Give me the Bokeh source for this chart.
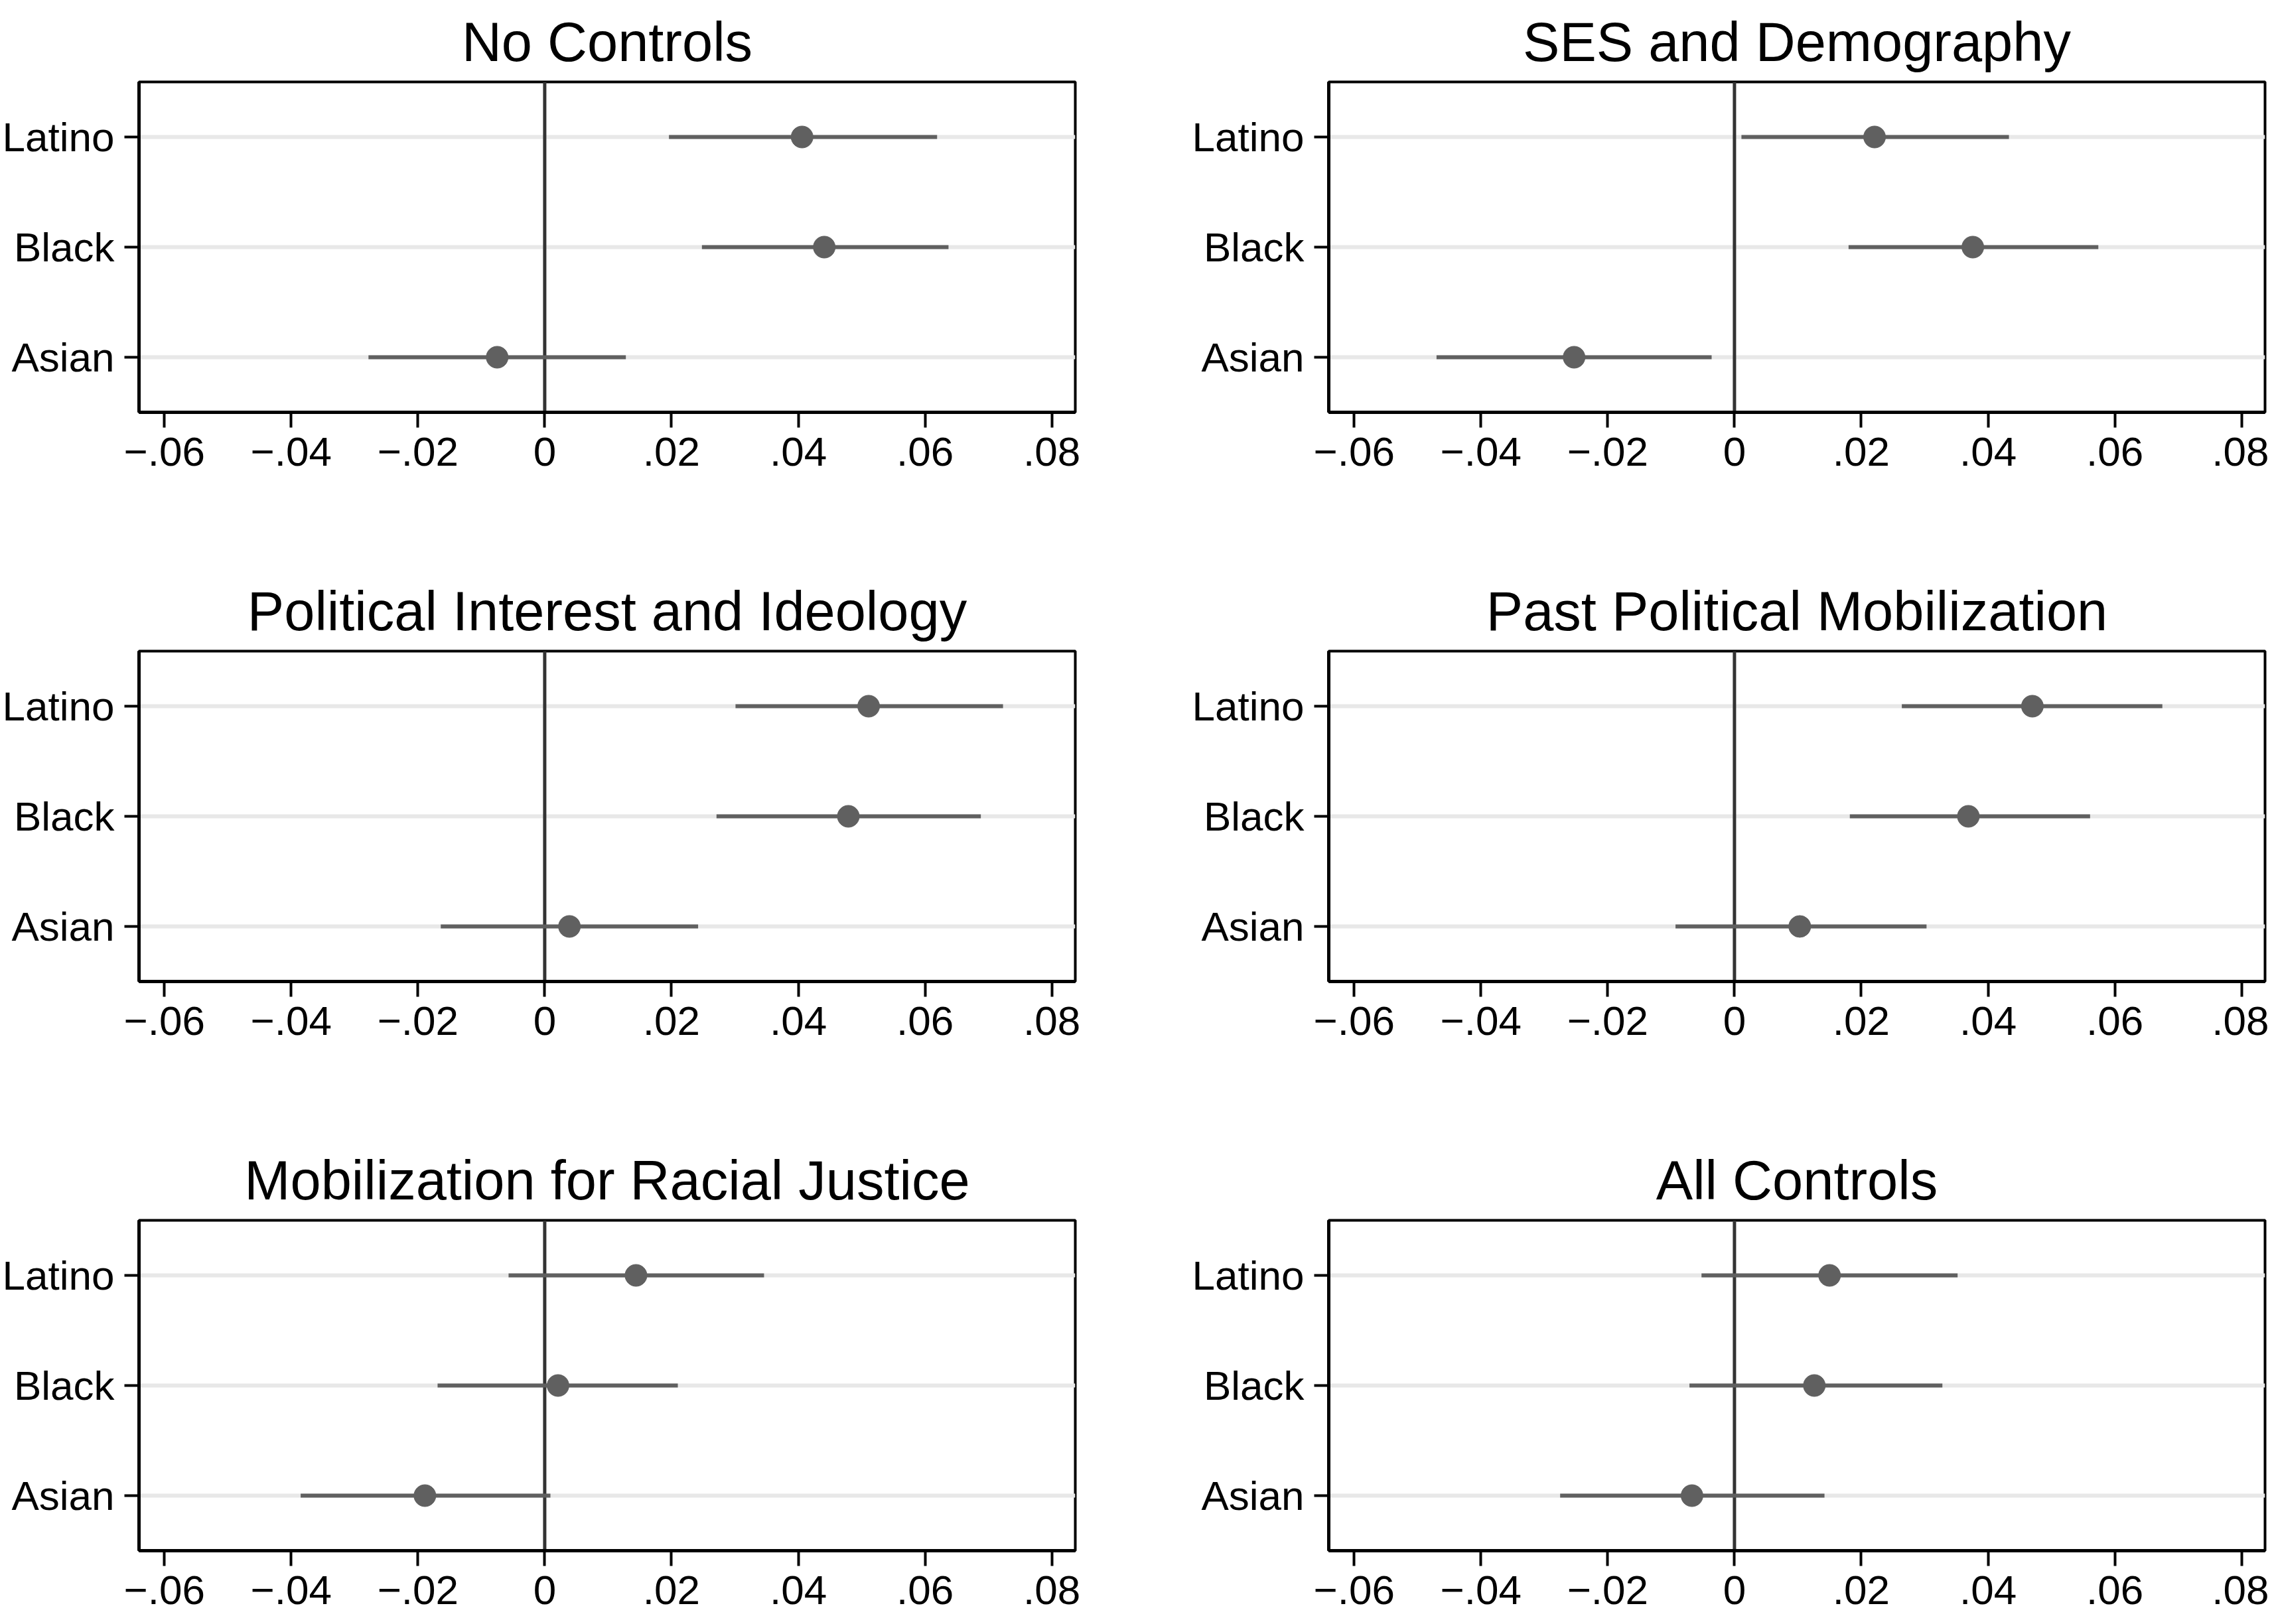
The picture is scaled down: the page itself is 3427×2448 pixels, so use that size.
from bokeh.plotting import figure
from bokeh.models import FactorRange, Range1d, FixedTicker, Span
from bokeh.layouts import gridplot
from bokeh.embed import file_html
from bokeh.resources import INLINE

# ---------------- data ----------------
groups = ["Latino", "Black", "Asian"]
group_order = ["Asian", "Black", "Latino"]  # bottom -> top

panel_titles = [
    "No Controls",
    "SES and Demography",
    "Political Interest and Ideology",
    "Past Political Mobilization",
    "Mobilization for Racial Justice",
    "All Controls",
]

# point estimates, lower and upper CI bounds (order: Latino, Black, Asian)
no_controls_est = [0.0406, 0.0441, -0.0075]
no_controls_lo = [0.0196, 0.0248, -0.0278]
no_controls_hi = [0.0619, 0.0637, 0.0128]

ses_est = [0.0221, 0.0376, -0.0253]
ses_lo = [0.0011, 0.0180, -0.0470]
ses_hi = [0.0433, 0.0574, -0.0036]

polint_est = [0.0511, 0.0479, 0.0039]
polint_lo = [0.0301, 0.0271, -0.0164]
polint_hi = [0.0723, 0.0688, 0.0242]

pastmob_est = [0.0470, 0.0369, 0.0103]
pastmob_lo = [0.0264, 0.0182, -0.0093]
pastmob_hi = [0.0675, 0.0561, 0.0303]

racial_est = [0.0144, 0.0021, -0.0189]
racial_lo = [-0.0057, -0.0169, -0.0385]
racial_hi = [0.0346, 0.0210, 0.0009]

allc_est = [0.0150, 0.0126, -0.0067]
allc_lo = [-0.0052, -0.0071, -0.0275]
allc_hi = [0.0352, 0.0328, 0.0142]

x_ticks = [-0.06, -0.04, -0.02, 0.0, 0.02, 0.04, 0.06, 0.08]
x_tick_labels = ["\u2212.06", "\u2212.04", "\u2212.02", "0", ".02", ".04", ".06", ".08"]

panel_data = [
    (no_controls_est, no_controls_lo, no_controls_hi),
    (ses_est, ses_lo, ses_hi),
    (polint_est, polint_lo, polint_hi),
    (pastmob_est, pastmob_lo, pastmob_hi),
    (racial_est, racial_lo, racial_hi),
    (allc_est, allc_lo, allc_hi),
]

# ---------------- style ----------------
FONT = "Liberation Sans"
MARK = "#606060"
GRID = "#e8e8e8"
ZERO = "#333333"
FRAME_W = 1411
FRAME_H = 498
TOP = 117
ROW_PITCH = 852


def make_panel(i):
    est, lo, hi = panel_data[i]
    col = i % 2
    row = i // 2
    p = figure(
        frame_width=FRAME_W,
        frame_height=FRAME_H,
        x_range=Range1d(-0.0640, 0.0837),
        y_range=FactorRange(factors=group_order),
        output_backend="svg",
        toolbar_location=None,
        min_border_left=206 if col == 0 else 298,
        min_border_right=84 if col == 0 else 6,
        min_border_top=TOP,
        min_border_bottom=(ROW_PITCH - TOP - FRAME_H) if row < 2 else 110,
        background_fill_color="white",
        border_fill_color="white",
    )
    p.title.text = panel_titles[i]
    p.title.align = "center"
    p.title.text_font = FONT
    p.title.text_font_size = "83px"
    p.title.text_font_style = "normal"
    p.title.text_color = "black"
    p.title.standoff = 28

    p.outline_line_color = "black"
    p.outline_line_width = 4
    p.outline_line_alpha = 1.0

    p.xgrid.grid_line_color = None
    p.ygrid.grid_line_color = GRID
    p.ygrid.grid_line_width = 6

    zero = Span(location=0, dimension="height", line_color=ZERO, line_width=5, level="underlay")
    p.add_layout(zero)

    p.segment(x0=lo, y0=groups, x1=hi, y1=groups, line_color=MARK, line_width=6)
    p.scatter(x=est, y=groups, size=33, fill_color=MARK, line_color=MARK)

    xa = p.xaxis[0]
    xa.ticker = FixedTicker(ticks=x_ticks)
    xa.major_label_overrides = {t: lab for t, lab in zip(x_ticks, x_tick_labels)}
    xa.major_tick_out = 23
    xa.major_tick_in = 0
    xa.major_tick_line_width = 4
    xa.major_tick_line_color = "black"
    xa.minor_tick_line_color = None
    xa.axis_line_width = 5
    xa.axis_line_color = "black"
    xa.major_label_text_font = FONT
    xa.major_label_text_font_size = "62px"
    xa.major_label_text_color = "black"
    xa.major_label_standoff = 15

    ya = p.yaxis[0]
    ya.major_tick_out = 22
    ya.major_tick_in = 0
    ya.major_tick_line_width = 4
    ya.major_tick_line_color = "black"
    ya.minor_tick_line_color = None
    ya.axis_line_width = 5
    ya.axis_line_color = "black"
    ya.major_label_text_font = FONT
    ya.major_label_text_font_size = "62px"
    ya.major_label_text_color = "black"
    ya.major_label_standoff = 15
    return p


panels = [make_panel(i) for i in range(6)]
grid = gridplot(
    [[panels[0], panels[1]], [panels[2], panels[3]], [panels[4], panels[5]]],
    toolbar_location=None,
)

open("out.html", "w").write(file_html(grid, INLINE))
